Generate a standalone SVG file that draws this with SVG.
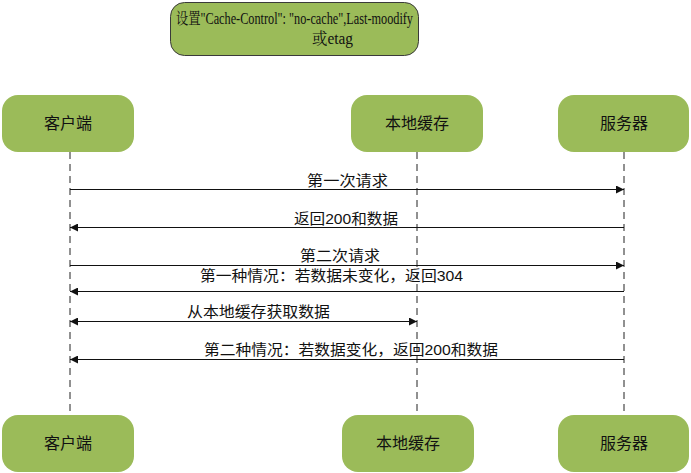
<svg xmlns="http://www.w3.org/2000/svg" width="691" height="473" viewBox="0 0 691 473">
<defs>
<style>
.node{fill:#9bbb59;}
.title{fill:#9bbb59;stroke:#3a3a3a;stroke-width:1;}
.nt{font-family:"Liberation Sans","Noto Sans CJK SC",sans-serif;font-size:16px;fill:#111;text-anchor:middle;}
.tt{font-family:"Liberation Serif","Noto Serif CJK SC","Noto Sans CJK SC",serif;font-size:16px;fill:#111;}
.lt{font-family:"Liberation Sans","Noto Sans CJK SC",sans-serif;font-size:15px;fill:#111;}
.life{stroke:#222;stroke-width:1;stroke-dasharray:7,5;fill:none;}
.msg{stroke:#111;stroke-width:1;fill:none;}
</style>
<marker id="ah" viewBox="0 0 10 10" refX="10" refY="5" markerWidth="9" markerHeight="8" orient="auto-start-reverse" markerUnits="userSpaceOnUse">
<path d="M0,0 L10,5 L0,10 z" fill="#111"/>
</marker>
</defs>
<rect width="691" height="473" fill="#fff"/>
<g id="title">
<rect class="title" x="170.5" y="2.5" width="248" height="53" rx="14"/>
<text class="tt" x="176" y="24" textLength="237" lengthAdjust="spacingAndGlyphs">设置"Cache-Control": "no-cache",Last-moodify</text>
<text class="tt" x="312" y="44" textLength="41" lengthAdjust="spacingAndGlyphs">或etag</text>
</g>
<g id="connectors">
<line class="life" x1="70" y1="152" x2="70" y2="415"/>
<line class="life" x1="417" y1="152" x2="417" y2="415"/>
<line class="life" x1="624" y1="152" x2="624" y2="415"/>
<line class="msg" x1="70" y1="189.5" x2="624" y2="189.5" marker-end="url(#ah)"/>
<line class="msg" x1="624" y1="227.5" x2="70" y2="227.5" marker-end="url(#ah)"/>
<line class="msg" x1="70" y1="265.5" x2="624" y2="265.5" marker-end="url(#ah)"/>
<line class="msg" x1="624" y1="291.5" x2="70" y2="291.5" marker-end="url(#ah)"/>
<line class="msg" x1="70" y1="321.5" x2="417" y2="321.5" marker-start="url(#ah)" marker-end="url(#ah)"/>
<line class="msg" x1="624" y1="359.5" x2="70" y2="359.5" marker-end="url(#ah)"/>
<text class="lt" x="307" y="186" textLength="81" lengthAdjust="spacingAndGlyphs">第一次请求</text>
<text class="lt" x="294" y="224" textLength="104" lengthAdjust="spacingAndGlyphs">返回200和数据</text>
<text class="lt" x="300" y="261" textLength="80" lengthAdjust="spacingAndGlyphs">第二次请求</text>
<text class="lt" x="200" y="281" textLength="263" lengthAdjust="spacingAndGlyphs">第一种情况：若数据未变化，返回304</text>
<text class="lt" x="187" y="317" textLength="143" lengthAdjust="spacingAndGlyphs">从本地缓存获取数据</text>
<text class="lt" x="204" y="355" textLength="294" lengthAdjust="spacingAndGlyphs">第二种情况：若数据变化，返回200和数据</text>
</g>
<g id="client-top">
<rect class="node" x="2" y="95" width="132" height="57" rx="16"/>
<text class="nt" x="68" y="129">客户端</text>
</g>
<g id="cache-top">
<rect class="node" x="351" y="95" width="132" height="57" rx="16"/>
<text class="nt" x="417" y="129">本地缓存</text>
</g>
<g id="server-top">
<rect class="node" x="558" y="95" width="131" height="57" rx="16"/>
<text class="nt" x="624" y="129">服务器</text>
</g>
<g id="client-bottom">
<rect class="node" x="2" y="415" width="132" height="57" rx="16"/>
<text class="nt" x="68" y="449">客户端</text>
</g>
<g id="cache-bottom">
<rect class="node" x="342" y="415" width="132" height="57" rx="16"/>
<text class="nt" x="408" y="449">本地缓存</text>
</g>
<g id="server-bottom">
<rect class="node" x="558" y="415" width="131" height="57" rx="16"/>
<text class="nt" x="624" y="449">服务器</text>
</g>
</svg>
